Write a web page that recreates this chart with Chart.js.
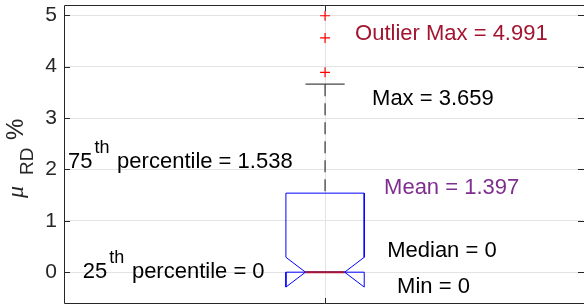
<!DOCTYPE html>
<html>
<head>
<meta charset="utf-8">
<script src="https://cdn.jsdelivr.net/npm/chart.js@4/dist/chart.umd.min.js"></script>
<style>
  html, body { margin: 0; padding: 0; background: #fff; }
  #wrap { width: 584px; height: 305px; }
</style>
</head>
<body>
<div id="wrap"><canvas id="boxChart"></canvas></div>
<script>
// box statistics, mu_RD in %
const q1 = 0;
const median = 0;
const q3 = 1.538;
const mean = 1.397;
const whiskerMin = 0;
const whiskerMax = 3.659;
const notchLow = -0.29;
const notchHigh = 0.29;
const outliers = [4.991, 4.56, 3.89];
const yTicks = [0, 1, 2, 3, 4, 5];
const xTicks = [1];

// layout of the single box (axis units)
const boxX = 1;
const halfBox = 0.075;
const halfNotch = 0.0375;

const gridColor = '#e3e3e3';
const axisColor = '#262626';
const fontFamily = '"Liberation Sans", Arial, sans-serif';

Chart.defaults.font.family = fontFamily;

const boxOutline = [
    { x: boxX - halfBox, y: q1 },
    { x: boxX - halfBox, y: notchLow },
    { x: boxX - halfNotch, y: median },
    { x: boxX - halfBox, y: notchHigh },
    { x: boxX - halfBox, y: q3 },
    { x: boxX + halfBox, y: q3 },
    { x: boxX + halfBox, y: notchHigh },
    { x: boxX + halfNotch, y: median },
    { x: boxX + halfBox, y: notchLow },
    { x: boxX + halfBox, y: q1 },
    { x: boxX - halfBox, y: q1 }
];

// text labels placed in axis units, like matlab text(x, y, ...)
const notes = [
    { parts: [['Outlier Max = ' + Math.max(...outliers)]], color: '#A2142F', x: 1.0575, y: 4.52 },
    { parts: [['Max = ' + whiskerMax]], color: '#000', x: 1.09, y: 3.255 },
    { parts: [['75'], ['th', true], [' percentile = ' + q3]], color: '#000', x: 0.5077, y: 2.026 },
    { parts: [['Mean = ' + mean]], color: '#7E2F8E', x: 1.113, y: 1.522 },
    { parts: [['Median = ' + median]], color: '#000', x: 1.119, y: 0.296 },
    { parts: [['25'], ['th', true], [' percentile = ' + q1]], color: '#000', x: 0.536, y: -0.113 },
    { parts: [['Min = ' + whiskerMin]], color: '#000', x: 1.138, y: -0.405 }
];

const frame = {
    id: 'frame',
    afterDraw(chart) {
        const { ctx, chartArea: a, scales: { x, y } } = chart;
        ctx.save();
        ctx.strokeStyle = axisColor;
        ctx.lineWidth = 1;
        ctx.beginPath();
        ctx.moveTo(a.right + 2, a.top + 0.5);
        ctx.lineTo(a.left + 0.5, a.top + 0.5);
        ctx.lineTo(a.left + 0.5, a.bottom + 0.5);
        ctx.lineTo(a.right + 2, a.bottom + 0.5);
        yTicks.forEach(v => {
            const py = Math.round(y.getPixelForValue(v)) + 0.5;
            ctx.moveTo(a.left, py);
            ctx.lineTo(a.left + 6, py);
            ctx.moveTo(a.right + 1, py);
            ctx.lineTo(a.right - 5, py);
        });
        xTicks.forEach(v => {
            const px = Math.round(x.getPixelForValue(v)) + 0.5;
            ctx.moveTo(px, a.top);
            ctx.lineTo(px, a.top + 6);
            ctx.moveTo(px, a.bottom + 1);
            ctx.lineTo(px, a.bottom - 5);
        });
        ctx.stroke();

        // annotations
        ctx.textBaseline = 'alphabetic';
        ctx.textAlign = 'left';
        notes.forEach(n => {
            let px = x.getPixelForValue(n.x);
            const py = y.getPixelForValue(n.y);
            ctx.fillStyle = n.color;
            n.parts.forEach(([t, sup]) => {
                if (sup) {
                    ctx.font = '18px ' + fontFamily;
                    px += 2;
                    ctx.fillText(t, px, py - 15);
                    px += ctx.measureText(t).width + 1.5;
                } else {
                    ctx.font = '22px ' + fontFamily;
                    ctx.fillText(t, px, py);
                    px += ctx.measureText(t).width;
                }
            });
        });

        // y axis title: mu_RD %
        ctx.translate(23, 198);
        ctx.rotate(-Math.PI / 2);
        ctx.fillStyle = axisColor;
        ctx.font = 'italic 24px "Liberation Serif", serif';
        ctx.fillText('\u03bc', 0, 0);
        ctx.font = '19px ' + fontFamily;
        ctx.fillText('RD', 23, 10);
        ctx.font = '24px ' + fontFamily;
        ctx.fillText('%', 58, 0);
        ctx.restore();
    }
};

new Chart(document.getElementById('boxChart'), {
    type: 'scatter',
    data: {
        datasets: [
            {
                label: 'Median',
                data: [{ x: boxX - halfNotch, y: median }, { x: boxX + halfNotch, y: median }],
                showLine: true,
                borderColor: '#A6163A',
                borderWidth: 2,
                pointRadius: 0,
                order: 0
            },
            {
                label: 'Outliers',
                data: outliers.map(v => ({ x: boxX, y: v })),
                pointStyle: 'cross',
                pointRadius: 5,
                borderColor: '#ff0000',
                borderWidth: 1.2,
                order: 1
            },
            {
                label: 'Box',
                data: boxOutline,
                showLine: true,
                borderColor: '#0000ff',
                borderWidth: 1,
                pointRadius: 0,
                order: 2
            },
            {
                label: 'Upper whisker',
                data: [{ x: boxX, y: whiskerMax }, { x: boxX, y: q3 }],
                showLine: true,
                borderColor: '#444',
                borderWidth: 1.3,
                borderDash: [12, 7],
                pointRadius: 0,
                order: 3
            },
            {
                label: 'Upper cap',
                data: [{ x: boxX - halfNotch, y: whiskerMax }, { x: boxX + halfNotch, y: whiskerMax }],
                showLine: true,
                borderColor: '#444',
                borderWidth: 1.3,
                pointRadius: 0,
                order: 3
            },
            {
                label: 'Lower cap',
                data: [{ x: boxX - halfNotch, y: whiskerMin }, { x: boxX + halfNotch, y: whiskerMin }],
                showLine: true,
                borderColor: '#444',
                borderWidth: 1.3,
                pointRadius: 0,
                order: 4
            }
        ]
    },
    options: {
        responsive: true,
        maintainAspectRatio: false,
        animation: false,
        layout: { autoPadding: false, padding: { top: 5, right: 1, bottom: 2, left: 0 } },
        plugins: {
            legend: { display: false },
            tooltip: { enabled: false }
        },
        scales: {
            x: {
                type: 'linear',
                min: 0.5,
                max: 1.494,
                afterBuildTicks: s => { s.ticks = xTicks.map(v => ({ value: v })); },
                afterFit: s => { s.height = 0; s.paddingLeft = 0; s.paddingRight = 0; },
                ticks: { display: false },
                grid: { color: gridColor, drawTicks: false },
                border: { display: false }
            },
            y: {
                min: -0.6,
                max: 5.2,
                afterBuildTicks: s => { s.ticks = yTicks.map(v => ({ value: v })); },
                afterFit: s => { s.width = 64; s.paddingTop = 0; s.paddingBottom = 0; },
                ticks: { color: axisColor, font: { size: 21 }, padding: 7 },
                grid: { color: gridColor, drawTicks: false },
                border: { display: false }
            }
        }
    },
    plugins: [frame]
});
</script>
</body>
</html>
